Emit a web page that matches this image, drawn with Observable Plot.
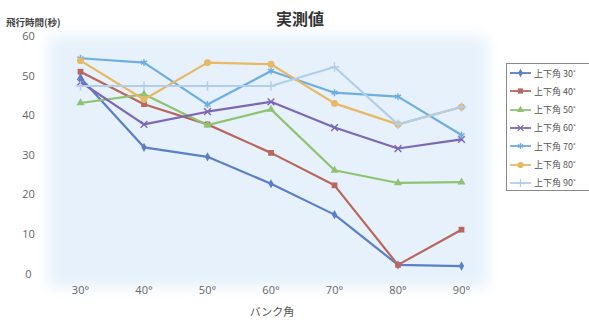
<!DOCTYPE html>
<html><head><meta charset="utf-8">
<script src="https://cdn.jsdelivr.net/npm/d3@7"></script>
<script src="https://cdn.jsdelivr.net/npm/@observablehq/plot@0.6"></script>
<style>
body{margin:0;background:#fff;}
#wrap{position:relative;width:589px;height:322px;overflow:hidden;font-family:"Noto Sans CJK JP","Noto Sans",sans-serif;}
#wrap svg.plot{position:absolute;left:0;top:0;}
.title{position:absolute;left:0;width:600px;top:6px;text-align:center;font-size:16px;font-weight:bold;color:#333;}
.ylab{position:absolute;left:6px;top:15px;font-size:9.5px;font-weight:bold;color:#444;}
.xlab{position:absolute;left:0;width:544px;top:303px;text-align:center;font-size:11px;color:#555;}
.legend{position:absolute;left:506px;top:63px;width:90px;height:128px;border:1px solid #8a8a8a;box-sizing:border-box;background:#fff;}
.row{position:absolute;left:0;height:18px;display:flex;align-items:center;font-size:9px;color:#555;white-space:nowrap;}
.row svg{margin-left:3px;margin-right:3px;}
</style></head>
<body><div id="wrap"></div>
<script>
const categories = [30, 40, 50, 60, 70, 80, 90];
const seriesNames = ["上下角 30˚", "上下角 40˚", "上下角 50˚", "上下角 60˚", "上下角 70˚", "上下角 80˚", "上下角 90˚"];
const s30 = [49.6, 32.0, 29.6, 22.8, 15.0, 2.3, 2.0];
const s40 = [51.1, 42.9, 37.8, 30.6, 22.4, 2.3, 11.2];
const s50 = [43.2, 45.4, 37.6, 41.6, 26.2, 23.0, 23.2];
const s60 = [48.5, 37.8, 41.0, 43.5, 37.0, 31.7, 34.0];
const s70 = [54.5, 53.4, 42.8, 51.3, 45.8, 44.8, 35.1];
const s80 = [53.9, 44.1, 53.4, 53.0, 43.1, 37.8, 42.2];
const s90 = [47.5, 47.5, 47.5, 47.5, 52.3, 37.8, 42.2];
const yTicks = [0, 10, 20, 30, 40, 50, 60];

const seriesValues = [s30, s40, s50, s60, s70, s80, s90];
const colors = ["#5a7fc9", "#b9665d", "#8fc271", "#7c66b6", "#6caee0", "#e8b865", "#b3cdec"];
const symbols = ["diamond", "square", "triangle", "times", "asterisk", "circle", "plus"];
const filled = [true, true, true, false, false, true, false];
const sizes = [22, 30, 26, 26, 28, 34, 26];

const data = [];
seriesValues.forEach((vals, i) => vals.forEach((v, j) => {
  if (v != null) data.push({x: categories[j], y: v, s: seriesNames[i], i});
}));

const marks = [
  Plot.frame({fill: "#e6f1fb", stroke: null, insetLeft: -32, insetRight: -26, insetTop: 0, insetBottom: -13, className: "bgpanel"}),
  Plot.axisY({ticks: yTicks, tickSize: 0, tickPadding: 52, textAnchor: "middle", fontSize: 11, fill: "#666", label: null}),
  Plot.axisX({ticks: categories, tickSize: 0, tickPadding: 12, fontSize: 11, fill: "#666", tickFormat: d => d + "°", label: null})
];
seriesNames.forEach((name, i) => {
  const d = data.filter(r => r.i === i);
  marks.push(Plot.line(d, {x: "x", y: "y", stroke: colors[i], strokeWidth: 2.2}));
  marks.push(Plot.dot(d, filled[i]
    ? {x: "x", y: "y", symbol: () => symbols[i], fill: colors[i], stroke: "none", r: Math.sqrt(sizes[i] / Math.PI) * 1.05}
    : {x: "x", y: "y", symbol: () => symbols[i], stroke: colors[i], strokeWidth: 1.4, r: Math.sqrt(sizes[i] / Math.PI) * 1.1}));
});

const chart = Plot.plot({
  width: 589, height: 322,
  marginLeft: 80, marginRight: 128, marginTop: 36, marginBottom: 48.5,
  x: {domain: [30, 90]},
  y: {domain: [0, 60]},
  symbol: {type: "identity"},
  style: {fontFamily: "'Open Sans','Liberation Sans',sans-serif", background: "transparent", overflow: "visible"},
  marks
});
chart.classList.add("plot");

// soften the background panel
const svg = d3.select(chart);
const defs = svg.insert("defs", ":first-child");
defs.append("filter").attr("id", "soft").attr("x", "-20%").attr("y", "-20%").attr("width", "140%").attr("height", "140%")
  .append("feGaussianBlur").attr("stdDeviation", 7);
svg.selectAll("[aria-label=frame], .bgpanel").attr("filter", "url(#soft)");

const wrap = document.getElementById("wrap");
wrap.appendChild(chart);

const t = document.createElement("div"); t.className = "title"; t.textContent = "実測値"; wrap.appendChild(t);
const yl = document.createElement("div"); yl.className = "ylab"; yl.textContent = "飛行時間(秒)"; wrap.appendChild(yl);
const xl = document.createElement("div"); xl.className = "xlab"; xl.textContent = "バンク角"; wrap.appendChild(xl);

const lg = document.createElement("div"); lg.className = "legend"; wrap.appendChild(lg);
const symMap = {diamond: d3.symbolDiamond, square: d3.symbolSquare, triangle: d3.symbolTriangle, times: d3.symbolTimes, asterisk: d3.symbolAsterisk, circle: d3.symbolCircle, plus: d3.symbolPlus};
seriesNames.forEach((name, i) => {
  const row = document.createElement("div"); row.className = "row";
  row.style.top = (i * 18.3) + "px";
  const s = d3.create("svg").attr("width", 21).attr("height", 10);
  s.append("line").attr("x1", 0).attr("x2", 21).attr("y1", 5).attr("y2", 5).attr("stroke", colors[i]).attr("stroke-width", 1.8);
  const p = s.append("path").attr("transform", "translate(10.5,5)").attr("d", d3.symbol(symMap[symbols[i]], sizes[i] * 0.9)());
  if (filled[i]) p.attr("fill", colors[i]); else p.attr("fill", "none").attr("stroke", colors[i]).attr("stroke-width", 1.3);
  row.appendChild(s.node());
  const tx = document.createElement("span"); tx.textContent = name; row.appendChild(tx);
  lg.appendChild(row);
});
</script></body></html>
